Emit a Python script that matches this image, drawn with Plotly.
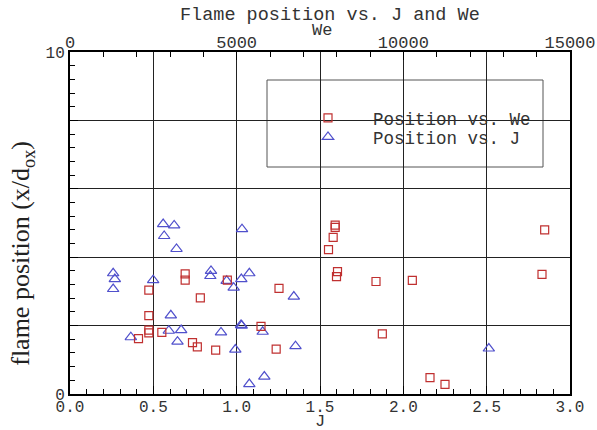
import plotly.graph_objects as go

# Position vs. We (red squares, top axis)
we_values = [2365, 2365, 2365, 2365, 2055, 2755, 3455, 3455, 3910, 4720,
             3675, 3820, 4370, 5730, 6270, 6185, 7955, 7955, 7895, 7755,
             8025, 7995, 9180, 10270, 9370, 10800, 11250, 14240, 14160]
pos_we = [3.04, 2.29, 1.87, 1.79, 1.62, 1.80, 3.51, 3.33, 2.81, 3.33,
          1.50, 1.38, 1.28, 1.98, 3.09, 1.31, 4.94, 4.87, 4.58, 4.22,
          3.58, 3.43, 3.29, 3.32, 1.76, 0.48, 0.28, 4.80, 3.50]

# Position vs. J (blue triangles, bottom axis)
j_values = [0.559, 0.625, 0.565, 0.639, 1.032, 0.259, 0.269, 0.259, 0.499, 0.846,
            0.842, 0.940, 0.982, 1.028, 1.076, 0.605, 0.365, 0.593, 0.667, 0.645,
            0.906, 1.026, 1.030, 1.156, 0.992, 1.076, 1.166, 1.343, 1.353, 2.513]
pos_j = [4.97, 4.93, 4.62, 4.24, 4.82, 3.53, 3.36, 3.07, 3.33, 3.60,
         3.45, 3.31, 3.11, 3.36, 3.53, 2.30, 1.66, 1.85, 1.87, 1.53,
         1.80, 2.02, 2.00, 1.82, 1.30, 0.29, 0.51, 2.85, 1.40, 1.33]

j_ticks = [0.0, 0.5, 1.0, 1.5, 2.0, 2.5, 3.0]
j_ticktext = ["0.0", "0.5", "1.0", "1.5", "2.0", "2.5", "3.0"]
we_ticks = [0, 5000, 10000, 15000]
we_ticktext = ["0", "5000", "10000", "15000"]
y_ticks = [0, 2, 4, 6, 8, 10]
y_ticktext = ["0", " ", " ", " ", " ", "10"]

MONO = "Liberation Mono"
RED = "#c03030"
BLUE = "#5050cc"
TXT = "#333333"

fig = go.Figure()
fig.add_trace(go.Scatter(
    x=we_values, y=pos_we, xaxis="x2", yaxis="y", mode="markers",
    name="Position vs. We", legend="legend",
    marker=dict(symbol="square-open", size=8, color=RED, line=dict(width=1.2, color=RED)),
))
fig.add_trace(go.Scatter(
    x=j_values, y=pos_j, xaxis="x", yaxis="y", mode="markers",
    name="Position vs. J", legend="legend2",
    marker=dict(symbol="triangle-up-open", size=10, color=BLUE, line=dict(width=1.2, color=BLUE)),
))

leg_common = dict(
    xanchor="left", yanchor="middle",
    bgcolor="rgba(0,0,0,0)", borderwidth=0,
    font=dict(family=MONO, size=17.5, color=TXT),
    itemwidth=80,
)

fig.update_layout(
    width=597, height=430,
    margin=dict(l=70, r=27, t=52, b=36),
    paper_bgcolor="white", plot_bgcolor="white",
    font=dict(family=MONO, color=TXT, size=15),
    showlegend=True,
    legend=dict(x=0.426, y=(394 - 118) / 342, **leg_common),
    legend2=dict(x=0.426, y=(394 - 137) / 342, **leg_common),
    xaxis=dict(
        range=[0, 3], tickvals=j_ticks, ticktext=j_ticktext,
        ticks="inside", ticklen=8, tickcolor="black", tickwidth=1,
        minor=dict(dtick=0.1, tick0=0, ticks="inside", ticklen=5, tickcolor="black", showgrid=False),
        showgrid=True, gridcolor="#222222", gridwidth=1,
        showline=True, linecolor="black", linewidth=2, mirror=True,
        zeroline=False, automargin=False, ticklabelstandoff=-3,
        tickfont=dict(family=MONO, size=16, color=TXT),
    ),
    xaxis2=dict(
        range=[0, 15000], overlaying="x", side="top", anchor="y",
        tickvals=we_ticks, ticktext=we_ticktext, ticks="inside", ticklen=8, tickcolor="black",
        minor=dict(dtick=1000, tick0=0, ticks="inside", ticklen=5, tickcolor="black", showgrid=False),
        showgrid=False, zeroline=False, showline=False, automargin=False,
        tickfont=dict(family=MONO, size=17, color=TXT),
    ),
    yaxis=dict(
        range=[0, 10], tickvals=y_ticks, ticktext=y_ticktext,
        ticks="inside", ticklen=8, tickcolor="black",
        minor=dict(dtick=0.4, tick0=0, ticks="inside", ticklen=5, tickcolor="black", showgrid=False),
        showgrid=True, gridcolor="#222222", gridwidth=1,
        showline=True, linecolor="black", linewidth=2, mirror=True,
        zeroline=False, automargin=False,
        tickfont=dict(family=MONO, size=16, color=TXT),
    ),
    shapes=[dict(
        type="rect", xref="paper", yref="paper",
        x0=0.394, x1=0.946, y0=(394 - 167) / 342, y1=(394 - 80) / 342,
        fillcolor="white", line=dict(color="#555555", width=1), layer="between",
    )],
    annotations=[
        dict(text="Flame position vs. J and We", xref="paper", yref="paper",
             x=0.519, y=1.0, yshift=37, showarrow=False, xanchor="center", yanchor="middle",
             font=dict(family=MONO, size=18.5, color=TXT)),
        dict(text="We", xref="paper", yref="paper",
             x=0.503, y=1.0, yshift=22, showarrow=False, xanchor="center", yanchor="middle",
             font=dict(family=MONO, size=17, color=TXT)),
        dict(text="J", xref="paper", yref="paper",
             x=0.5, y=0.0, yshift=-27, showarrow=False, xanchor="center", yanchor="middle",
             font=dict(family=MONO, size=17, color=TXT)),
        dict(text="flame position (x/d<sub>ox</sub>)", xref="paper", yref="paper",
             x=0, xshift=-48, y=0.41, textangle=-90, showarrow=False,
             xanchor="center", yanchor="middle",
             font=dict(family="Liberation Serif", size=26, color="#222222")),
    ],
)

fig.write_html("out.html")
